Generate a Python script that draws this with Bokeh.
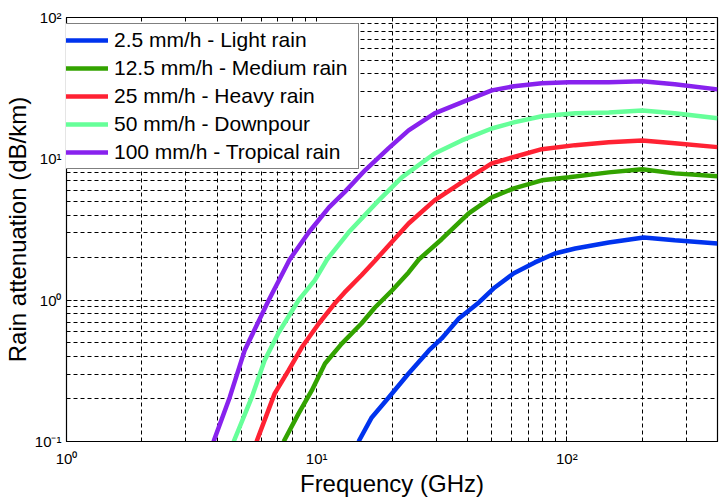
from bokeh.plotting import figure
from bokeh.models import Range1d, FixedTicker, Legend, LegendItem
from bokeh.embed import file_html
from bokeh.resources import INLINE

# ---- data ----
freq_2 = [14.7, 16.6, 19.4, 23.3, 28.1, 31.6, 37.0, 44.5, 51.5, 61.4, 74.5, 89.5, 108, 147, 203, 270, 400]
att_2 = [0.1, 0.148, 0.205, 0.303, 0.441, 0.536, 0.742, 0.964, 1.23, 1.55, 1.85, 2.14, 2.32, 2.56, 2.78, 2.65, 2.52]

freq_12 = [7.38, 8.47, 9.55, 10.8, 12.6, 15.1, 17.1, 20.0, 23.3, 25.6, 31.6, 40.5, 50.1, 61.4, 79.4, 102, 147, 200, 270, 400]
att_12 = [0.1, 0.158, 0.229, 0.356, 0.493, 0.684, 0.887, 1.17, 1.57, 1.94, 2.7, 4.11, 5.34, 6.18, 7.05, 7.40, 8.02, 8.43, 7.89, 7.52]

freq_25 = [5.75, 6.79, 7.73, 8.71, 10.2, 11.8, 12.9, 15.1, 17.1, 19.4, 23.3, 29.6, 38.0, 50.1, 61.4, 79.4, 108, 147, 200, 270, 400]
att_25 = [0.1, 0.218, 0.32, 0.462, 0.684, 0.946, 1.13, 1.50, 1.9, 2.44, 3.49, 5.08, 6.82, 9.29, 10.3, 11.7, 12.5, 13.1, 13.5, 12.9, 12.1]

freq_50 = [4.66, 5.5, 6.19, 7.05, 8.47, 9.82, 11.0, 13.4, 17.7, 21.9, 29.6, 38.0, 50.1, 61.4, 79.4, 108, 147, 200, 270, 400]
att_50 = [0.1, 0.205, 0.374, 0.59, 1.0, 1.38, 1.94, 3.01, 5.08, 7.4, 10.9, 13.5, 16.4, 18.1, 20.0, 21.0, 21.3, 22.0, 21.0, 19.4]

freq_100 = [3.87, 4.49, 5.15, 6.43, 7.8, 9.29, 11.2, 12.9, 15.6, 19.4, 23.3, 29.6, 38.0, 50.1, 61.4, 79.4, 102, 147, 200, 270, 400]
att_100 = [0.1, 0.205, 0.44, 1.0, 1.94, 3.01, 4.53, 5.79, 8.3, 11.9, 15.9, 21.0, 25.1, 30.5, 32.6, 34.3, 34.8, 34.8, 35.4, 33.7, 31.0]

series_labels = ["2.5 mm/h - Light rain", "12.5 mm/h - Medium rain", "25 mm/h - Heavy rain",
                 "50 mm/h - Downpour", "100 mm/h - Tropical rain"]
series_colors = ["#0033ee", "#33a300", "#ff2233", "#66ff99", "#8822ee"]
series_x = [freq_2, freq_12, freq_25, freq_50, freq_100]
series_y = [att_2, att_12, att_25, att_50, att_100]

x_major = [1.0, 10.0, 100.0]
y_major = [0.1, 1.0, 10.0, 100.0]
x_labels = {1.0: "10\u2070", 10.0: "10\u00b9", 100.0: "10\u00b2"}
y_labels = {0.1: "10\u207b\u00b9", 1.0: "10\u2070", 10.0: "10\u00b9", 100.0: "10\u00b2"}
x_title = "Frequency (GHz)"
y_title = "Rain attenuation (dB/km)"

FONT = "Liberation Sans"

p = figure(width=722, height=500, x_axis_type="log", y_axis_type="log",
           x_range=Range1d(1, 400), y_range=Range1d(0.1, 100),
           output_backend="svg", toolbar_location=None,
           min_border_left=65, min_border_right=5, min_border_top=17, min_border_bottom=59)
p.background_fill_color = "white"
p.border_fill_color = "white"
p.outline_line_color = "black"
p.outline_line_width = 1.2
p.outline_line_alpha = 1

x_minor = [m * d for d in (1, 10, 100) for m in range(2, 10) if m * d <= 400]
y_minor = [m * d for d in (0.1, 1, 10) for m in range(2, 10)]
p.xaxis.ticker = FixedTicker(ticks=x_major, minor_ticks=x_minor)
p.yaxis.ticker = FixedTicker(ticks=y_major, minor_ticks=y_minor)
p.xaxis.major_label_overrides = x_labels
p.yaxis.major_label_overrides = y_labels

for ax in (p.xaxis, p.yaxis):
    ax.axis_line_color = "black"
    ax.major_tick_in = 5
    ax.major_tick_out = 0
    ax.minor_tick_in = 3
    ax.minor_tick_out = 0
    ax.major_tick_line_color = "black"
    ax.minor_tick_line_color = "black"
    ax.major_label_text_font = FONT
    ax.major_label_text_font_size = "15px"
    ax.major_label_text_color = "black"
    ax.axis_label_text_font = FONT
    ax.axis_label_text_font_size = "24px"
    ax.axis_label_text_font_style = "normal"
    ax.axis_label_text_color = "black"

p.xaxis.axis_label = x_title
p.yaxis.axis_label = y_title
p.xaxis.major_label_standoff = 8
p.xaxis.axis_label_standoff = 0
p.yaxis.major_label_standoff = 5
p.yaxis.axis_label_standoff = 1

for g in (p.xgrid, p.ygrid):
    g.grid_line_color = "black"
    g.grid_line_dash = "4 3"
    g.grid_line_width = 1
    g.minor_grid_line_color = "black"
    g.minor_grid_line_dash = "4 3"
    g.minor_grid_line_width = 1

items = []
for xs, ys, c, lab in zip(series_x, series_y, series_colors, series_labels):
    r = p.line(xs, ys, line_color=c, line_width=4.5)
    items.append(LegendItem(label=lab, renderers=[r]))

legend = Legend(items=items, location=(-6, 272), margin=0, padding=4,
                spacing=4, glyph_width=43, glyph_height=24, label_standoff=6,
                label_width=240, label_height=24,
                label_text_font=FONT, label_text_font_size="21px", label_text_color="black",
                border_line_color="black", border_line_width=1.2,
                background_fill_color="white", background_fill_alpha=1)
p.add_layout(legend, "center")

open("out.html", "w").write(file_html(p, INLINE))
